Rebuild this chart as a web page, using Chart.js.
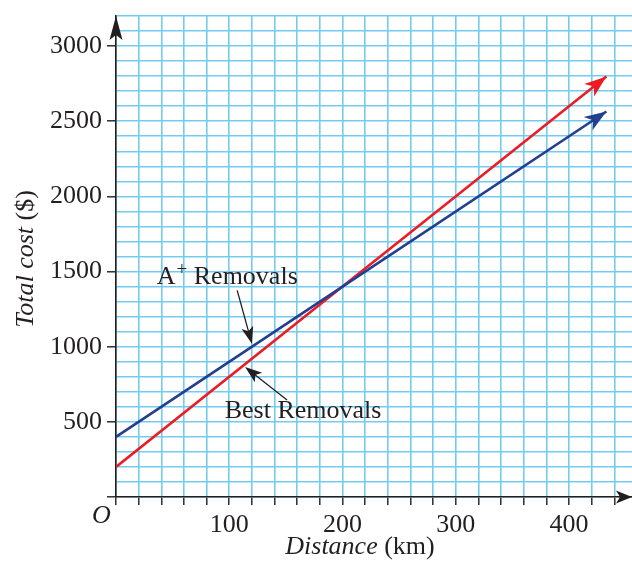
<!DOCTYPE html>
<html>
<head>
<meta charset="utf-8">
<script src="https://cdn.jsdelivr.net/npm/chart.js@4.4.1/dist/chart.umd.min.js"></script>
<style>
html, body { margin: 0; padding: 0; background: #fff; }
</style>
</head>
<body>
<canvas id="costChart" width="632" height="571"></canvas>
<script>
// values
var distance = [0, 200, 433];
var aplusCost = [400, 1400, 2565];
var bestCost = [200, 1400, 2798];
var xLabelTicks = [100, 200, 300, 400];
var yLabelTicks = [500, 1000, 1500, 2000, 2500, 3000];

var SERIF = "'Liberation Serif', 'Times New Roman', serif";
var INK = '#231f20';
var GRID = '#72ccef';
var RED = '#ed1c24';
var BLUE = '#243f8f';

function toPoints(xs, ys) {
    var pts = [];
    for (var i = 0; i < xs.length; i++) pts.push({ x: xs[i], y: ys[i] });
    return pts;
}

function arrowHead(ctx, x, y, ang, len, half, notch, color) {
    ctx.save();
    ctx.translate(x, y);
    ctx.rotate(ang);
    ctx.beginPath();
    ctx.moveTo(0, 0);
    ctx.lineTo(-len, -half);
    ctx.lineTo(-len + notch, 0);
    ctx.lineTo(-len, half);
    ctx.closePath();
    ctx.fillStyle = color;
    ctx.fill();
    ctx.restore();
}

// pointer arrows for the two labels, in data units (tail -> tip)
var pointers = [
    { from: [107, 1375], to: [120, 1020] },
    { from: [151, 646], to: [114, 865] }
];

var extras = {
    id: 'extras',
    afterDraw: function (chart) {
        var ctx = chart.ctx;
        var xs = chart.scales.x, ys = chart.scales.y;
        var area = chart.chartArea;

        // arrow heads at the end of each line
        chart.data.datasets.forEach(function (ds, i) {
            var meta = chart.getDatasetMeta(i);
            var n = meta.data.length;
            var a = meta.data[n - 2], b = meta.data[n - 1];
            var ang = Math.atan2(b.y - a.y, b.x - a.x);
            arrowHead(ctx, b.x, b.y, ang, 22, 8, 6, ds.borderColor);
        });

        // axis arrows
        arrowHead(ctx, area.left, area.top, -Math.PI / 2, 24, 6.5, 5, INK);
        arrowHead(ctx, 632, ys.getPixelForValue(0), 0, 16, 6.5, 4, INK);

        // pointers
        ctx.save();
        ctx.strokeStyle = INK;
        ctx.lineWidth = 1.3;
        pointers.forEach(function (p) {
            var x0 = xs.getPixelForValue(p.from[0]), y0 = ys.getPixelForValue(p.from[1]);
            var x1 = xs.getPixelForValue(p.to[0]), y1 = ys.getPixelForValue(p.to[1]);
            var ang = Math.atan2(y1 - y0, x1 - x0);
            ctx.beginPath();
            ctx.moveTo(x0, y0);
            ctx.lineTo(x1 - Math.cos(ang) * 10, y1 - Math.sin(ang) * 10);
            ctx.stroke();
            arrowHead(ctx, x1, y1, ang, 17, 6, 4, INK);
        });
        ctx.restore();

        ctx.save();
        ctx.fillStyle = INK;
        ctx.textBaseline = 'alphabetic';
        ctx.textAlign = 'left';

        // A+ Removals
        var ax = xs.getPixelForValue(36), ay = ys.getPixelForValue(1420);
        ctx.font = '26px ' + SERIF;
        ctx.fillText('A', ax, ay);
        var wA = ctx.measureText('A').width;
        ctx.font = '19px ' + SERIF;
        ctx.fillText('+', ax + wA + 1, ay - 9);
        var wPlus = ctx.measureText('+').width;
        ctx.font = '26px ' + SERIF;
        ctx.fillText(' Removals', ax + wA + wPlus + 1, ay);

        // Best Removals
        ctx.fillText('Best Removals', xs.getPixelForValue(96), ys.getPixelForValue(526));

        // origin
        ctx.font = 'italic 26px ' + SERIF;
        ctx.fillText('O', 92, 523);

        // x title
        ctx.font = 'italic 26px ' + SERIF;
        var t1 = 'Distance', t2 = ' (km)';
        var w1 = ctx.measureText(t1).width;
        ctx.font = '26px ' + SERIF;
        var w2 = ctx.measureText(t2).width;
        var sx = 360 - (w1 + w2) / 2;
        ctx.font = 'italic 26px ' + SERIF;
        ctx.fillText(t1, sx, 554);
        ctx.font = '26px ' + SERIF;
        ctx.fillText(t2, sx + w1, 554);

        // y title
        ctx.translate(33, 259);
        ctx.rotate(-Math.PI / 2);
        ctx.font = 'italic 26px ' + SERIF;
        var u1 = 'Total cost', u2 = ' ($)';
        var v1 = ctx.measureText(u1).width;
        ctx.font = '26px ' + SERIF;
        var v2 = ctx.measureText(u2).width;
        var sy = -(v1 + v2) / 2;
        ctx.font = 'italic 26px ' + SERIF;
        ctx.fillText(u1, sy, 0);
        ctx.font = '26px ' + SERIF;
        ctx.fillText(u2, sy + v1, 0);
        ctx.restore();
    }
};

Chart.defaults.font.family = SERIF;
Chart.defaults.color = INK;

var costChart = new Chart(document.getElementById('costChart'), {
    type: 'scatter',
    data: {
        datasets: [
            {
                label: 'A+ Removals',
                data: toPoints(distance, aplusCost),
                showLine: true,
                borderColor: BLUE,
                borderWidth: 2.6,
                pointRadius: 0,
                borderCapStyle: 'butt'
            },
            {
                label: 'Best Removals',
                data: toPoints(distance, bestCost),
                showLine: true,
                borderColor: RED,
                borderWidth: 2.6,
                pointRadius: 0,
                borderCapStyle: 'butt'
            }
        ]
    },
    options: {
        responsive: false,
        animation: false,
        layout: { padding: { top: 0, right: 0, left: 0, bottom: 0 } },
        plugins: {
            legend: { display: false },
            tooltip: { enabled: false }
        },
        scales: {
            x: {
                type: 'linear',
                min: 0,
                max: 455.6,
                afterFit: function (scale) { scale.height = 74; },
                border: { display: true, color: INK, width: 1.6 },
                grid: {
                    color: GRID,
                    lineWidth: 1.6,
                    tickColor: INK,
                    tickWidth: 1.4,
                    tickLength: 8
                },
                ticks: {
                    stepSize: 20,
                    autoSkip: false,
                    maxRotation: 0,
                    includeBounds: false,
                    maxTicksLimit: 100,
                    padding: 5,
                    font: { size: 26 },
                    color: INK,
                    callback: function (v) { return xLabelTicks.indexOf(v) >= 0 ? String(v) : ''; }
                }
            },
            y: {
                type: 'linear',
                min: 0,
                max: 3200,
                afterFit: function (scale) { scale.width = 116; },
                border: { display: true, color: INK, width: 1.6 },
                grid: {
                    color: GRID,
                    lineWidth: 1.6,
                    tickColor: function (c) { return c.tick && c.tick.value % 500 === 0 ? INK : 'rgba(0,0,0,0)'; },
                    tickWidth: 1.4,
                    tickLength: 9
                },
                ticks: {
                    stepSize: 100,
                    autoSkip: false,
                    maxTicksLimit: 100,
                    padding: 5,
                    font: { size: 26, lineHeight: 0.85 },
                    color: INK,
                    callback: function (v) { return yLabelTicks.indexOf(v) >= 0 ? String(v) : ''; }
                }
            }
        }
    },
    plugins: [extras]
});
</script>
</body>
</html>
